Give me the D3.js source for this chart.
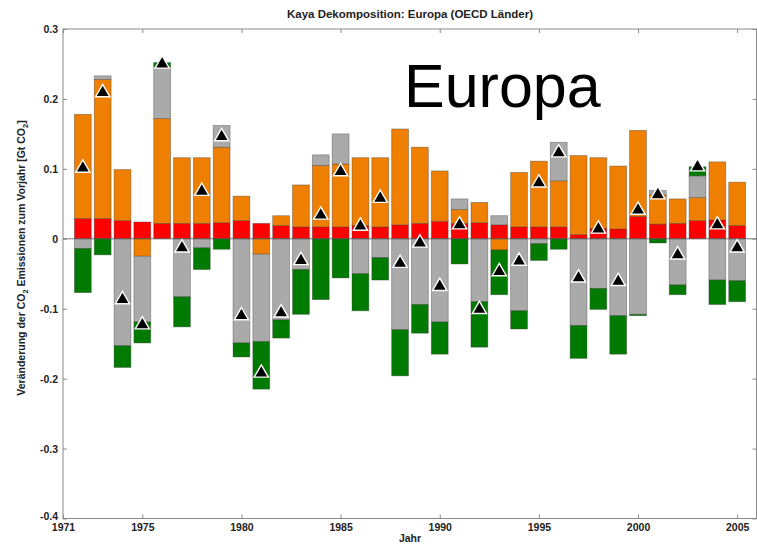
<!DOCTYPE html>
<html><head><meta charset="utf-8">
<script src="https://cdn.jsdelivr.net/npm/d3@7"></script>
<style>
html,body{margin:0;padding:0;background:#fff;}
svg{display:block;font-family:Arial,"Liberation Sans",Helvetica,sans-serif;}
</style></head>
<body><svg id="chart" width="757" height="545"></svg>
<script>
const years = [1972,1973,1974,1975,1976,1977,1978,1979,1980,1981,1982,1983,1984,1985,1986,1987,1988,1989,1990,1991,1992,1993,1994,1995,1996,1997,1998,1999,2000,2001,2002,2003,2004,2005];
const population = [0.029,0.029,0.026,0.024,0.022,0.022,0.022,0.023,0.026,0.022,0.019,0.017,0.017,0.017,0.019,0.017,0.020,0.022,0.025,0.022,0.023,0.020,0.017,0.017,0.017,0.006,0.015,0.014,0.032,0.021,0.022,0.026,0.027,0.019];
const gdpPerCapita = [0.149,0.199,0.073,-0.025,0.150,0.094,0.094,0.108,0.035,-0.022,0.014,0.060,0.088,0.090,0.097,0.099,0.137,0.109,0.072,0.020,0.029,-0.016,0.078,0.094,0.066,0.113,0.101,0.090,0.123,0.042,0.035,0.033,0.083,0.062];
const energyIntensity = [-0.014,0.005,-0.153,-0.094,0.074,-0.083,-0.013,0.031,-0.149,-0.125,-0.116,-0.044,0.015,0.043,-0.050,-0.027,-0.130,-0.094,-0.119,0.015,-0.090,0.013,-0.103,-0.007,0.055,-0.124,-0.071,-0.110,-0.108,0.006,-0.066,0.031,-0.059,-0.060];
const carbonIntensity = [-0.063,-0.023,-0.031,-0.030,0.006,-0.043,-0.031,-0.015,-0.020,-0.068,-0.026,-0.064,-0.087,-0.056,-0.053,-0.032,-0.066,-0.041,-0.046,-0.036,-0.065,-0.064,-0.026,-0.024,-0.015,-0.047,-0.030,-0.055,-0.002,-0.006,-0.014,0.013,-0.035,-0.030];
const netChange = [0.101,0.209,-0.087,-0.123,0.250,-0.013,0.068,0.146,-0.110,-0.192,-0.106,-0.031,0.034,0.096,0.018,0.058,-0.035,-0.006,-0.068,0.020,-0.101,-0.047,-0.032,0.080,0.123,-0.056,0.014,-0.061,0.041,0.063,-0.023,0.103,0.020,-0.013];
const seriesKeys = ["population","gdpPerCapita","energyIntensity","carbonIntensity"];
const seriesColors = ["#ff0000","#ef7f00","#aaaaaa","#007a00"];
const yTicks = [-0.4,-0.3,-0.2,-0.1,0,0.1,0.2,0.3];
const yTickLabels = ["-0.4","-0.3","-0.2","-0.1","0","0.1","0.2","0.3"];
const xTicks = [1971,1975,1980,1985,1990,1995,2000,2005];
const titleText = "Kaya Dekomposition: Europa (OECD Länder)";
const bigLabel = "Europa";

const rows = years.map((y,i)=>({year:y,population:population[i],gdpPerCapita:gdpPerCapita[i],energyIntensity:energyIntensity[i],carbonIntensity:carbonIntensity[i]}));

const svg = d3.select("#chart");
const L=63, R=757, T=29, B=518.5;
const x = d3.scaleLinear().domain([1971,2006]).range([L,R]);
const y = d3.scaleLinear().domain([-0.4,0.3]).range([B,T]);
const bw = (x(1972)-x(1971))*0.85;
const color = d3.scaleOrdinal().domain(seriesKeys).range(seriesColors);

const stacked = d3.stack().keys(seriesKeys).offset(d3.stackOffsetDiverging)(rows);

// frame
svg.append("rect").attr("x",L).attr("y",T).attr("width",R-L-0.5).attr("height",B-T)
  .attr("fill","none").attr("stroke","#8a8a8a").attr("stroke-width",1);

// bars
const g = svg.append("g");
stacked.forEach(s=>{
  g.append("g").attr("fill",color(s.key)).selectAll("rect").data(s).join("rect")
   .attr("x",d=>x(d.data.year)-bw/2)
   .attr("width",bw)
   .attr("y",d=>y(Math.max(d[0],d[1])))
   .attr("height",d=>Math.abs(y(d[0])-y(d[1])))
   .attr("stroke","rgba(60,60,60,0.45)").attr("stroke-width",0.8);
});

// zero line
svg.append("line").attr("x1",L).attr("x2",R).attr("y1",y(0)).attr("y2",y(0))
  .attr("stroke","#555").attr("stroke-width",0.8);

// axes
const axL = d3.axisLeft(y).tickValues(yTicks).tickSize(-4).tickPadding(5).tickFormat((d,i)=>yTickLabels[i]);
const gl = svg.append("g").attr("transform",`translate(${L},0)`).call(axL);
const axR = d3.axisRight(y).tickValues(yTicks).tickSize(-4).tickFormat("");
const gr = svg.append("g").attr("transform",`translate(${R-0.5},0)`).call(axR);
const axB = d3.axisBottom(x).tickValues(xTicks).tickSize(-4).tickPadding(6).tickFormat(d3.format("d"));
const gb = svg.append("g").attr("transform",`translate(0,${B})`).call(axB);
const axT = d3.axisTop(x).tickValues(xTicks).tickSize(-4).tickFormat("");
const gt = svg.append("g").attr("transform",`translate(0,${T})`).call(axT);
[gl,gr,gb,gt].forEach(a=>{
  a.select(".domain").remove();
  a.selectAll(".tick line").attr("stroke","#8a8a8a");
  a.selectAll("text").attr("font-family","Arial,'Liberation Sans',sans-serif").attr("font-size",10.5).attr("font-weight","bold").attr("fill","#222");
});
gl.selectAll(".tick text").attr("dy","0.35em");
gl.selectAll(".tick text").filter((d,i)=>i===0).attr("dy","0.05em");
gb.selectAll(".tick text").attr("dy","0.6em");

// triangles (net change)
svg.append("g").selectAll("path").data(years).join("path")
  .attr("transform",(d,i)=>`translate(${x(d)},${y(netChange[i])})`)
  .attr("d",d3.symbol().type(d3.symbolTriangle).size(88))
  .attr("fill","#000").attr("stroke","#fff").attr("stroke-width",1.4);

// title
svg.append("text").attr("x",410).attr("y",18).attr("text-anchor","middle")
  .attr("font-size",11.5).attr("font-weight","bold").attr("fill","#222").text(titleText);

// big label
svg.append("text").attr("x",404).attr("y",107)
  .attr("font-size",61).attr("fill","#000").text(bigLabel);

// x label
svg.append("text").attr("x",410).attr("y",542).attr("text-anchor","middle")
  .attr("font-size",10.5).attr("font-weight","bold").attr("fill","#222").text("Jahr");

// y label
const yl = svg.append("text").attr("transform","translate(25,258) rotate(-90)").attr("text-anchor","middle")
  .attr("font-size",10.5).attr("font-weight","bold").attr("fill","#222");
yl.append("tspan").text("Veränderung der CO");
yl.append("tspan").attr("font-size",7.5).attr("dy",3).text("2");
yl.append("tspan").attr("dy",-3).text(" Emissionen zum Vorjahr [Gt CO");
yl.append("tspan").attr("font-size",7.5).attr("dy",3).text("2");
yl.append("tspan").attr("dy",-3).text("]");
</script></body></html>
